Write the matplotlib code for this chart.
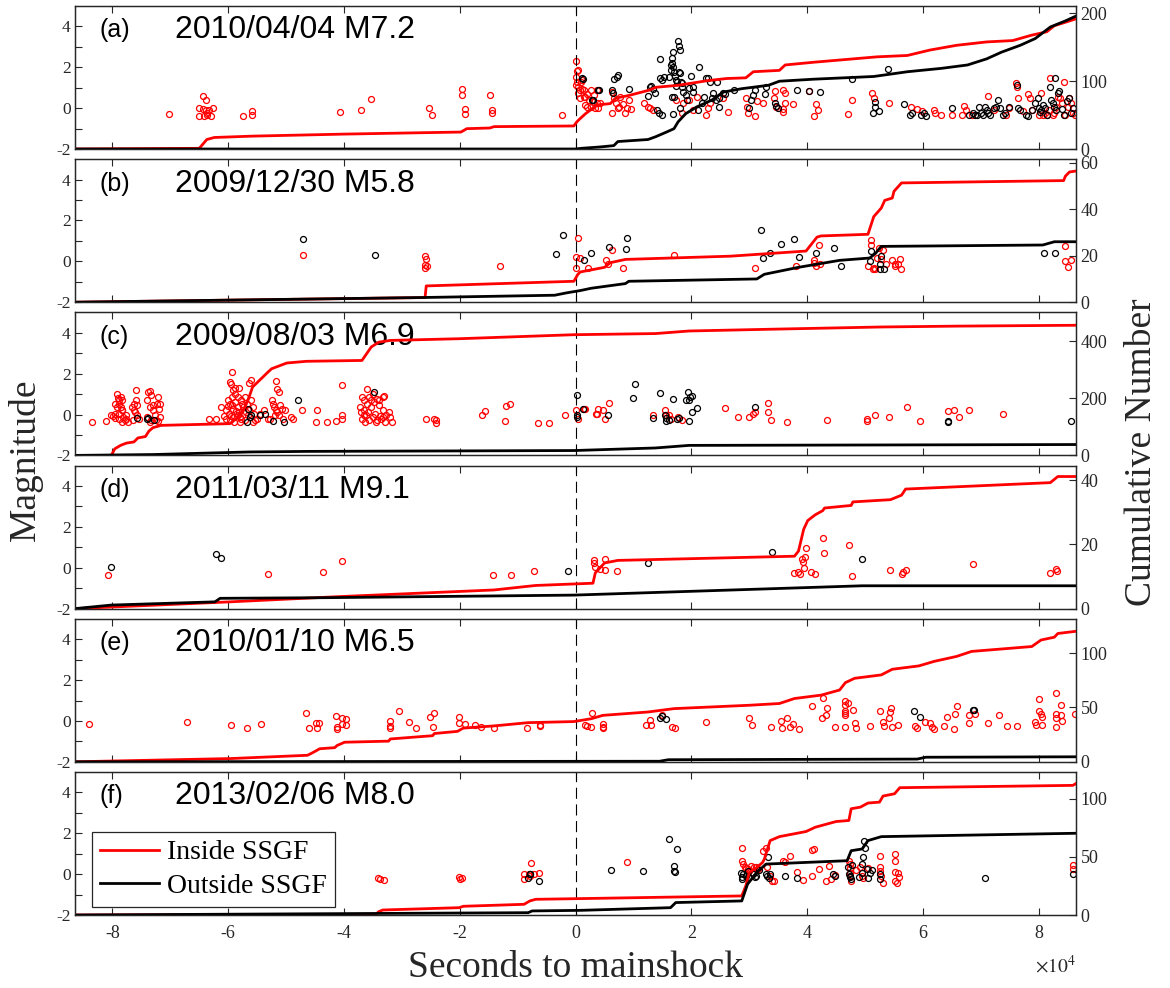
import numpy as np
import matplotlib.pyplot as plt

plt.rcParams['font.family'] = ['Liberation Serif', 'DejaVu Serif']
plt.rcParams['axes.unicode_minus'] = False
plt.rcParams['mathtext.fontset'] = 'stix'

# times in units of 1e4 s relative to the mainshock, magnitudes
A_IN = [(-7.03,-0.30),(-6.43,0.59),(-6.39,0.40),(-6.50,0.00),(-6.50,-0.37),(-6.42,-0.37),(-6.37,-0.22),(-6.39,-0.09),(-6.33,-0.09),(-6.30,-0.37),(-6.26,0.00),(-6.37,-0.34),(-6.43,-0.06),
        (-5.75,-0.39),(-5.59,-0.14),(-5.59,-0.34),(-4.07,-0.17),(-3.71,-0.08),(-3.53,0.45),(-2.54,0.02),(-2.48,-0.35),
        (-1.96,0.92),(-1.96,0.64),(-1.91,-0.04),(-1.91,-0.29),(-1.47,0.64),(-1.45,-0.09),(-1.45,-0.25),(-0.24,-0.35),
        (0.00,2.31),(0.03,1.82),(0.04,1.87),(0.00,1.54),(0.03,1.30),(0.01,1.13),(0.05,1.02),(0.07,0.89),(0.11,1.38),(0.04,0.72),(0.08,0.51),(0.15,0.89),(0.17,0.56),(0.20,0.68),(0.24,0.40),(0.16,0.15),(0.27,0.07),(0.30,0.32),(0.34,0.00),(0.37,0.23),(0.27,0.89),
        (0.09,1.26),(0.11,0.92),(0.14,0.56),(0.19,0.07),(0.32,0.64),(0.37,0.89),(0.39,0.00),(0.43,0.23),
        (0.63,0.81),(0.66,0.48),(0.63,-0.22),(0.69,0.23),(0.73,0.00),(0.77,0.56),(0.82,0.20),(0.86,-0.22),(0.89,0.00),(0.92,0.40),(0.95,-0.05),(0.75,0.04),
        (1.18,0.23),(1.25,0.07),(1.29,0.00),(1.34,-0.09),(1.73,0.40),(1.83,-0.25),(1.86,0.23),(1.96,0.40),(2.03,-0.09),(2.09,0.56),(2.25,-0.34),(2.29,0.00),(2.32,0.23),(2.55,0.48),(2.63,-0.20),
        (2.94,0.51),(2.96,0.04),(2.97,-0.25),(3.10,-0.37),(3.13,0.37),(3.24,0.23),(3.42,0.48),(3.44,0.85),(3.46,0.07),(3.59,0.89),(3.62,0.72),(3.61,0.23),(3.59,-0.05),(3.59,-0.20),(3.75,0.20),
        (4.04,0.85),(4.12,-0.38),(4.16,0.20),(4.19,-0.09),(4.71,-0.29),(4.77,0.40),(5.12,0.72),(5.15,0.51),(5.41,0.27),(5.80,0.07),(5.89,-0.05),(5.99,-0.12),(6.19,-0.09),(6.20,-0.22),(6.32,-0.34),(6.51,-0.34),(6.68,-0.34),(6.71,0.10),(6.74,-0.09),(6.84,-0.34),(7.13,0.59),(7.23,-0.09),
        (7.44,-0.34),(7.49,0.00),(7.61,1.21),(7.62,1.02),(7.64,0.51),(7.72,-0.12),(7.81,0.69),(7.85,0.48),(7.88,-0.09),(8.01,-0.34),(8.04,0.76),(8.07,-0.34),(8.10,-0.25),(8.14,-0.34),(8.17,-0.09),(8.20,1.46),(8.24,-0.34),(8.27,-0.25),(8.30,0.07),(8.33,0.56),(8.37,0.48),(8.40,0.23),(8.43,1.30),(8.46,-0.34),(8.50,0.04),(8.53,0.48),(8.56,0.23),(8.59,-0.25),(8.63,-0.34)]
A_OUT = [(0.12,1.43),(0.28,0.40),(0.38,0.89),(0.11,1.46),(0.30,0.40),(0.40,0.89),(0.63,0.89),(0.65,0.72),(0.67,1.41),(0.71,1.54),(0.73,1.62),(0.92,0.92),
         (1.25,0.61),(1.29,1.02),(1.31,1.08),(1.34,0.92),(1.38,0.72),(1.40,-0.09),(1.44,-0.25),(1.49,-0.34),(1.45,2.39),(1.45,1.46),(1.49,1.38),(1.52,1.51),(1.62,1.54),(1.64,2.11),(1.65,1.87),(1.66,2.44),(1.67,2.19),(1.68,2.76),(1.68,2.00),(1.70,1.79),(1.71,1.57),(1.73,1.38),(1.75,1.30),(1.77,3.30),(1.78,3.06),(1.80,2.85),(1.78,1.79),(1.80,1.70),(1.82,1.30),(1.83,1.21),(1.73,1.08),(1.70,0.56),(1.67,0.56),(1.69,-0.30),(1.80,0.00),(1.84,1.05),(1.86,0.81),(1.90,0.64),(1.93,0.40),(1.96,0.97),(2.03,1.05),(2.03,0.81),(2.00,1.57),(2.14,2.00),(2.12,-0.09),(2.19,0.23),(2.22,0.56),(2.25,1.46),(2.29,1.46),(2.32,1.30),(2.35,0.48),(2.38,0.72),(2.42,0.40),(2.45,1.30),(2.47,0.51),(2.48,0.04),(2.55,0.72),(2.58,0.69),(2.74,0.89),
         (2.99,0.00),(3.03,0.40),(3.07,0.64),(3.10,0.89),(3.28,0.69),(3.29,1.02),(3.44,0.23),(3.46,0.10),(3.49,0.00),(3.83,0.89),(4.03,0.84),(4.22,0.81),(4.78,1.43),(5.13,-0.25),(5.17,0.32),(5.18,0.07),(5.24,-0.14),(5.40,1.90),(5.67,0.20),(5.77,-0.34),(5.81,-0.25),(5.96,-0.34),(6.01,-0.25),(6.05,-0.38),(6.50,0.00),
         (6.80,-0.34),(6.87,-0.25),(6.90,-0.34),(6.94,-0.34),(6.97,0.07),(7.00,-0.25),(7.03,-0.34),(7.07,0.04),(7.10,-0.09),(7.13,-0.25),(7.16,-0.34),(7.23,0.00),(7.26,0.04),(7.29,0.40),(7.33,0.00),(7.39,-0.34),(7.42,-0.25),(7.49,0.04),(7.62,1.13),(7.64,0.00),(7.68,-0.09),(7.78,-0.34),(7.81,-0.38),(7.88,-0.09),(7.94,0.23),(7.98,0.48),(8.00,0.00),(8.02,-0.17),(8.04,-0.09),(8.07,0.15),(8.10,0.00),(8.14,-0.34),(8.19,1.02),(8.22,0.40),(8.24,0.23),(8.26,0.07),(8.28,1.46),(8.30,-0.09),(8.33,0.72),(8.35,0.85),(8.40,-0.05),(8.44,-0.34),(8.48,0.37),(8.53,0.48),(8.56,-0.25),(8.59,0.00)]
A_IN_CUM_T = [-8.64, -6.50, -6.45, -6.37, -6.24, -5.58, -3.99, -2.67, -1.98, -1.88, -1.48, -1.41, -0.03, 0.02, 0.08, 0.17, 0.37, 0.60, 0.69, 0.92, 1.28, 1.38, 1.77, 2.29, 2.61, 2.94, 3.07, 3.52, 3.62, 4.11, 5.21, 5.73, 6.12, 6.58, 7.10, 7.55, 7.88, 8.14, 8.27, 8.46, 8.64]
A_IN_CUM_N = [0, 1, 6, 14, 17, 19, 22, 24, 25, 30, 31, 33, 34, 40, 45, 52, 65, 67, 75, 79, 87, 91, 94, 101, 104, 105, 114, 116, 124, 128, 136, 138, 146, 153, 158, 160, 168, 173, 182, 187, 192]
A_OUT_CUM_T = [-8.64, 0.0, 0.10, 0.42, 0.66, 0.73, 1.25, 1.38, 1.57, 1.70, 1.77, 1.90, 2.09, 2.35, 2.55, 2.87, 3.33, 3.52, 4.11, 5.15, 5.73, 6.32, 6.77, 7.10, 7.36, 7.68, 7.94, 8.20, 8.46, 8.64]
A_OUT_CUM_N = [0, 0, 1, 3, 5, 11, 14, 18, 25, 30, 40, 52, 62, 72, 84, 89, 94, 100, 103, 107, 114, 119, 124, 133, 143, 153, 163, 180, 189, 196]

B_IN = [(-4.71,0.30),(-2.60,0.25),(-2.59,0.10),(-2.60,-0.16),(-2.60,-0.31),(-2.56,-0.23),(-1.30,-0.23),(0.04,1.15),(0.00,0.21),(0.08,0.16),(0.00,-0.31),(0.22,-0.33),
        (0.53,0.08),(0.56,-0.11),(0.63,0.54),(0.82,-0.33),(1.70,0.33),(3.10,-0.31),(3.80,-0.23),(4.11,0.08),(4.12,-0.08),(4.16,-0.25),(4.21,0.79),(4.22,-0.11),(5.05,-0.25),(5.10,0.79),(5.11,1.03),(5.13,-0.36),(5.16,-0.31),(5.18,-0.36),(5.21,0.18),(5.24,0.67),(5.28,0.13),(5.31,0.54),(5.37,-0.11),(5.47,0.05),(5.51,-0.11),(5.52,-0.25),(5.57,-0.11),(5.60,0.13),(5.62,-0.36),(8.45,0.75),(8.46,0.00),(8.51,-0.28),(8.55,0.05)]
B_OUT = [(-4.71,1.11),(-3.46,0.33),(-0.34,0.34),(-0.22,1.28),(0.15,0.08),(0.27,0.43),(0.58,0.70),(0.87,0.62),(0.88,1.15),(3.20,1.52),(3.23,0.18),(3.35,0.41),(3.54,0.87),(3.77,1.08),(3.86,0.21),(4.16,0.41),(4.47,0.66),(4.59,-0.23),(5.08,0.00),(5.11,0.49),(5.26,-0.11),(5.28,0.25),(5.26,-0.36),(5.33,-0.36),(8.09,0.41),(8.28,0.41)]
B_IN_CUM_T = [-8.64, -2.60, -2.58, -0.03, 0.04, 0.08, 0.50, 0.60, 0.86, 2.68, 3.98, 4.17, 4.24, 5.05, 5.15, 5.28, 5.34, 5.47, 5.50, 5.63, 8.43, 8.46, 8.53, 8.64]
B_IN_CUM_N = [0, 2, 7, 9, 12, 13, 15, 17, 18.4, 19.8, 22, 28, 28.5, 29.2, 36.8, 40.5, 43.8, 44.8, 47.7, 51.3, 52.3, 54.2, 56, 56.4]
B_OUT_CUM_T = [-8.64, -2.67, -0.36, -0.16, 0.08, 0.27, 0.86, 0.92, 3.13, 3.26, 3.85, 4.56, 5.08, 5.18, 5.28, 8.07, 8.27, 8.64]
B_OUT_CUM_N = [0, 2, 3, 4, 5, 6, 8, 9, 10, 12, 15, 18, 19, 21, 24, 24.6, 26, 26]

C_IN = [(-8.35,-0.36),(-8.11,-0.31),
        (-8.02,0.00),(-7.99,-0.07),(-7.96,0.05),(-7.92,1.03),(-7.90,0.83),(-7.89,0.70),(-7.88,0.54),(-7.86,0.37),(-7.84,0.21),(-7.83,0.70),(-7.81,-0.12),(-7.79,-0.28),(-7.77,-0.04),(-7.76,-0.20),(-7.74,-0.36),(-7.92,0.37),(-7.96,0.54),(-7.86,0.86),(-7.89,0.05),(-7.83,0.21),(-7.88,-0.20),(-7.84,-0.36),(-7.95,-0.15),
        (-7.66,0.37),(-7.63,0.54),(-7.59,0.70),(-7.61,0.13),(-7.57,-0.04),(-7.55,-0.20),(-7.64,-0.28),(-7.59,1.19),(-7.62,0.21),(-7.57,0.45),
        (-7.40,0.70),(-7.38,1.11),(-7.36,1.16),(-7.33,0.95),(-7.35,0.37),(-7.30,0.21),(-7.27,-0.04),(-7.23,0.54),(-7.20,0.29),(-7.18,-0.12),(-7.22,0.86),(-7.40,-0.12),(-7.33,-0.28),(-7.25,-0.28),(-7.18,0.54),(-7.30,0.45),(-7.36,-0.36),(-7.22,-0.30),
        (-6.34,-0.20),(-6.21,-0.20),(-6.12,0.37),
        (-5.94,2.09),(-5.97,1.60),(-5.96,1.49),(-5.91,1.19),(-5.81,1.32),(-5.88,1.03),(-5.84,0.86),(-6.01,0.70),(-5.97,0.54),(-6.04,0.21),(-5.91,0.29),(-5.84,0.37),(-5.78,0.70),(-5.71,0.86),(-5.64,1.52),(-5.61,1.68),(-6.04,-0.20),(-5.97,-0.28),(-5.91,-0.12),(-5.84,-0.04),(-5.78,-0.20),(-5.71,-0.28),(-5.64,0.21),(-5.58,0.37),(-5.55,0.05),(-5.51,-0.20),(-5.94,0.86),(-5.88,0.62),(-5.81,0.13),(-5.74,0.37),(-5.68,0.54),(-5.61,0.70),(-5.99,0.05),(-5.90,-0.36),(-5.79,-0.36),(-5.58,-0.36),(-5.53,-0.28),(-5.45,0.05),(-5.38,0.21),(-5.31,-0.20),(-6.00,0.40),(-5.93,0.45),(-5.86,0.15),(-5.76,0.50),(-5.66,0.00),(-6.07,-0.05),(-5.95,-0.05),(-5.80,-0.10),(-5.70,0.10),(-5.88,1.30),
        (-5.18,1.65),(-5.15,1.27),(-5.13,1.11),(-5.25,0.70),(-5.23,0.54),(-5.21,0.37),(-5.18,0.21),(-5.15,0.13),(-5.12,-0.04),(-5.08,0.29),(-5.05,-0.20),(-5.02,0.21),(-5.28,-0.20),(-4.88,-0.20),(-4.92,-0.12),(-5.20,0.00),(-5.10,0.45),
        (-4.73,0.21),(-4.47,0.24),(-4.49,-0.36),(-4.30,-0.36),(-4.14,-0.31),(-4.04,1.47),(-4.03,0.00),(-4.03,-0.20),
        (-3.60,1.27),(-3.69,0.86),(-3.66,0.70),(-3.56,0.86),(-3.50,1.03),(-3.43,0.78),(-3.33,0.86),(-3.31,0.90),(-3.73,0.37),(-3.66,0.21),(-3.60,0.54),(-3.53,0.37),(-3.46,0.05),(-3.40,0.45),(-3.33,0.21),(-3.27,-0.04),(-3.23,0.13),(-3.20,-0.12),(-3.17,-0.36),(-3.69,-0.20),(-3.63,-0.36),(-3.56,-0.28),(-3.50,-0.12),(-3.43,-0.28),(-3.36,-0.20),(-3.30,-0.36),(-3.33,-0.12),(-3.40,0.70),(-3.53,0.70),(-3.66,-0.04),(-3.70,0.10),(-3.58,0.10),(-3.48,0.60),(-3.38,-0.05),(-3.62,0.00),(-3.45,-0.36),
        (-2.59,-0.20),(-2.45,-0.20),(-2.41,-0.41),(-2.41,-0.28),(-1.61,-0.04),(-1.56,0.18),(-1.22,-0.31),(-1.20,0.41),(-1.13,0.54),(-0.65,-0.41),(-0.46,-0.41),(-0.19,0.00),(0.01,0.21),(0.05,-0.20),(0.17,0.29),(0.37,0.05),
        (0.14,0.29),(0.35,0.05),(0.39,0.29),(0.48,0.21),(0.50,-0.20),(0.58,0.57),(1.34,0.00),(1.54,0.24),(1.56,0.00),(1.62,-0.04),(1.64,-0.20),(1.77,-0.12),(1.83,-0.28),(2.58,0.34),(2.81,-0.12),(2.99,-0.12),(3.07,0.05),(3.10,0.13),(3.33,0.57),(3.33,0.13),(3.38,-0.25),(3.65,-0.36),(4.35,-0.25),(5.04,-0.20),(5.04,-0.31),(5.17,-0.04),(5.41,-0.12),(5.72,0.37),(5.95,-0.31),(6.43,0.16),(6.53,0.24),(6.63,-0.12),(6.79,0.24),(7.38,0.01)]
C_OUT = [(-7.58,-0.15),(-7.40,-0.20),(-7.38,-0.15),(-7.28,-0.25),(-5.68,-0.36),(-5.66,0.29),(-5.63,-0.12),(-5.61,-0.04),(-5.45,0.00),(-5.37,0.05),(-5.23,-0.33),(-5.04,-0.36),(-4.79,0.73),(-3.48,1.11),(0.02,0.94),(0.02,-0.04),(0.03,-0.12),(0.12,0.29),(0.56,0.00),(1.02,1.49),(1.00,0.83),(1.34,-0.15),(1.45,1.06),(1.54,0.00),(1.56,-0.15),(1.57,-0.31),(1.62,-0.25),(1.69,0.75),(1.75,-0.20),(1.78,-0.15),(1.90,0.73),(1.95,1.08),(1.96,0.70),(1.98,0.86),(2.01,0.91),(1.96,-0.33),(2.01,0.13),(2.09,0.32),(3.10,0.37),(6.43,-0.36),(6.43,-0.31),(8.55,-0.31)]
C_IN_CUM_T = [-8.64, -8.02, -7.96, -7.86, -7.76, -7.63, -7.56, -7.43, -7.37, -7.30, -7.16, -5.97, -5.84, -5.71, -5.64, -5.58, -5.31, -5.25, -4.99, -4.65, -3.69, -3.53, -3.40, -3.20, -2.01, -0.03, 1.38, 1.96, 3.33, 5.28, 6.58, 8.64]
C_IN_CUM_N = [0, 0, 23, 35, 43, 47, 61, 66, 85, 97, 105, 111, 132, 169, 204, 239, 292, 303, 323, 329, 332, 379, 396, 402, 408, 422, 426, 435, 441, 449, 452, 455]
C_OUT_CUM_T = [-8.64, -7.30, -5.64, -4.65, -0.03, 1.38, 1.96, 8.64]
C_OUT_CUM_N = [0, 3, 12, 14, 17, 26, 35, 38]

D_IN = [(-8.07,-0.36),(-5.31,-0.31),(-4.37,-0.20),(-4.04,0.32),(-1.43,-0.36),(-1.12,-0.36),(-0.72,-0.15),(0.32,0.37),(0.32,0.21),(0.34,0.05),(0.43,-0.04),(0.50,0.42),(0.50,-0.12),(0.71,-0.15),(3.78,-0.28),(3.85,-0.23),(3.88,-0.33),(3.91,0.42),(3.92,0.29),(3.94,0.00),(3.96,0.54),(3.98,0.98),(4.07,-0.23),(4.13,-0.31),(4.27,1.44),(4.29,0.70),(4.73,1.11),(4.77,-0.40),(5.43,-0.12),(5.63,-0.33),(5.65,-0.23),(5.70,-0.12),(6.87,0.18),(8.19,-0.25),(8.30,-0.07),(8.32,-0.17)]
D_OUT = [(-8.02,0.05),(-6.22,0.65),(-6.13,0.49),(-0.13,-0.18),(1.25,0.21),(3.39,0.78),(4.95,0.42)]
D_IN_CUM_T = [-8.64, -5.97, -4.12, -1.41, -0.69, 0.30, 0.34, 0.50, 0.73, 3.78, 3.85, 3.94, 4.01, 4.14, 4.27, 4.30, 4.76, 4.79, 5.44, 5.63, 5.70, 8.20, 8.33, 8.64]
D_IN_CUM_N = [0, 2.1, 3.7, 5.8, 7.2, 7.9, 11.1, 14.2, 15, 16.3, 17.9, 24.7, 27.4, 29.2, 30.5, 31.3, 32.1, 33.2, 33.9, 35.3, 37.2, 39.2, 41.1, 41.1]
D_OUT_CUM_T = [-8.64, -8.02, -6.23, -6.14, -4.32, -0.03, 4.95, 8.64]
D_OUT_CUM_N = [0, 1.1, 2.1, 3.2, 3.4, 4.2, 7.1, 7.1]

E_IN = [(-8.40,-0.16),(-6.72,-0.06),(-5.95,-0.19),(-5.68,-0.33),(-5.43,-0.16),(-4.65,0.38),(-4.60,-0.34),(-4.49,-0.11),(-4.47,-0.34),(-4.43,-0.11),(-4.14,0.25),(-4.12,-0.31),(-4.12,-0.40),(-4.04,0.15),(-4.04,-0.14),(-3.96,0.10),(-3.96,-0.19),(-3.20,0.02),(-3.21,-0.23),(-3.21,-0.34),(-3.05,0.51),(-2.88,-0.06),(-2.75,-0.36),(-2.52,0.18),(-2.45,0.38),(-2.47,-0.28),(-2.01,0.18),(-2.01,-0.11),(-1.91,-0.14),(-1.74,-0.19),(-1.63,-0.28),(-1.41,-0.36),(-0.84,-0.36),(-0.61,-0.19),(-0.61,-0.27),(0.17,-0.19),(0.19,-0.27),(0.27,-0.31),(0.29,0.40),
        (0.47,-0.14),(0.47,-0.28),(0.47,-0.36),(1.21,-0.19),(1.29,0.05),(1.31,-0.19),(1.49,0.27),(1.67,-0.31),(1.72,-0.36),(2.25,-0.03),(2.99,0.15),(3.05,-0.19),(3.38,-0.31),(3.55,0.02),(3.57,-0.34),(3.65,0.15),(3.70,-0.28),(3.75,-0.14),(3.86,-0.39),(4.09,0.71),(4.25,0.15),(4.28,1.14),(4.32,0.27),(4.35,0.64),(4.48,-0.31),(4.65,1.00),(4.65,0.79),(4.66,0.51),(4.66,0.40),(4.66,0.30),(4.65,-0.28),(4.71,0.87),(4.79,0.55),(4.82,-0.11),(4.84,-0.36),(5.08,-0.23),(5.26,0.51),(5.31,-0.06),(5.32,-0.23),(5.41,0.15),(5.43,0.43),(5.45,0.63),(5.46,-0.31),(5.57,-0.18),(5.86,-0.23),(5.90,-0.34),(6.04,-0.06),(6.12,-0.09),(6.15,-0.28),(6.19,-0.39),(6.36,-0.23),(6.42,0.21),(6.53,-0.39),(6.55,0.32),(6.58,0.71),(6.79,-0.11),(6.79,0.30),(6.90,0.32),(7.12,-0.09),(7.31,0.30),(7.46,-0.23),(7.63,-0.26),(7.93,-0.06),(7.96,-0.19),(8.01,1.09),(8.01,0.48),(8.04,0.32),(8.05,0.18),(8.06,-0.19),(8.29,1.38),(8.29,0.32),(8.30,0.15),(8.29,-0.31),(8.39,0.76),(8.39,0.30),(8.40,0.02),(8.63,0.35)]
E_OUT = [(1.45,0.15),(1.49,0.25),(1.56,0.10),(5.85,0.51),(5.95,0.18),(6.87,0.55),(6.88,0.52)]
E_IN_CUM_T = [-8.64, -5.95, -4.63, -4.52, -4.42, -4.16, -4.12, -3.99, -3.23, -3.20, -2.47, -2.44, -2.04, -1.94, -1.41, -0.82, -0.03, 0.27, 0.47, 1.25, 1.70, 3.0, 3.52, 3.78, 4.24, 4.56, 4.66, 4.82, 5.28, 5.47, 5.93, 6.19, 6.58, 6.84, 7.88, 8.04, 8.27, 8.33, 8.64]
E_IN_CUM_N = [0, 3, 6, 9, 12, 13, 15, 18, 19, 21, 24, 26, 28, 31, 33, 36, 37, 39.6, 42.7, 45.8, 48.9, 52, 53.6, 58.2, 61.3, 66, 72.8, 76.8, 79.9, 85.1, 88.2, 92.3, 96.9, 101.5, 106, 112, 114.6, 118, 120]
E_OUT_CUM_T = [-8.64, 1.45, 1.60, 5.90, 6.05, 8.64]
E_OUT_CUM_N = [0, 0.5, 1.9, 2.5, 4.2, 4.6]

F_IN = [(-3.41,-0.20),(-3.38,-0.25),(-3.31,-0.30),(-2.02,-0.13),(-1.99,-0.25),(-1.96,-0.20),(-0.89,-0.25),(-0.89,0.00),(-0.81,0.00),(-0.77,0.54),(-0.72,0.00),(-0.63,0.08),(-0.79,-0.08),
        (0.88,0.57),(2.87,1.28),(2.88,0.62),(2.90,0.52),(2.92,0.36),(2.94,0.28),(2.97,0.25),(3.00,0.16),(3.03,0.41),(3.07,0.08),(3.09,0.33),(3.12,0.36),(3.15,0.25),(3.23,1.11),(3.29,1.28),(3.31,0.33),(3.36,-0.08),(3.39,-0.33),(3.42,-0.36),(3.59,0.66),(3.62,0.57),(3.70,0.90),(3.83,0.11),(3.93,-0.30),(4.09,-0.08),(4.09,1.18),(4.11,1.23),(4.20,0.25),(4.32,-0.36),(4.37,0.41),(4.42,-0.25),(4.48,-0.03),(4.72,0.66),(4.74,0.52),(4.74,0.28),(4.74,0.08),(4.76,-0.33),(4.85,0.20),(4.92,0.36),(4.95,-0.08),(4.97,-0.21),(5.05,0.30),(5.25,0.87),(5.25,0.36),(5.26,0.16),(5.28,-0.08),(5.31,-0.41),(5.51,0.98),(5.51,0.62),(5.51,0.11),(5.52,-0.36),(5.56,-0.41),(5.57,0.08),(5.59,-0.13),(8.59,0.44),(8.59,0.25)]
F_OUT = [(-0.79,0.00),(-0.82,-0.20),(-0.63,-0.36),(-0.78,0.03),(0.62,0.20),(1.17,0.16),(1.62,1.72),(1.70,0.16),(1.70,0.41),(1.71,0.11),(1.75,1.23),(2.86,0.08),(2.87,-0.16),(2.88,-0.25),(2.90,0.00),(2.94,-0.08),(2.97,0.16),(3.00,-0.16),(3.07,0.00),(3.10,-0.16),(3.12,-0.08),(3.16,0.20),(3.29,0.03),(3.31,-0.08),(3.33,0.82),(3.34,-0.20),(3.36,0.03),(3.62,-0.11),(3.83,-0.20),(4.45,0.00),(4.48,-0.08),(4.71,0.36),(4.72,0.00),(4.74,-0.08),(4.74,-0.16),(4.76,-0.25),(4.77,0.44),(4.89,-0.13),(4.94,0.08),(4.95,0.52),(4.97,0.85),(4.99,1.64),(5.00,1.28),(5.03,0.25),(5.05,-0.20),(5.08,0.08),(5.12,0.20),(5.25,0.00),(5.26,-0.25),(7.08,-0.20),(8.59,0.03)]
F_IN_CUM_T = [-8.64, -3.45, -3.40, -3.33, -2.01, -1.94, -0.89, -0.79, -0.69, 0.08, 2.87, 2.94, 3.0, 3.13, 3.23, 3.26, 3.36, 3.52, 3.98, 4.14, 4.50, 4.72, 4.76, 4.92, 5.05, 5.25, 5.31, 5.51, 5.60, 8.59, 8.64]
F_IN_CUM_N = [0, 0.5, 2.9, 4.3, 6.3, 7.5, 9.2, 12.1, 13.5, 14.1, 16.4, 25, 36.6, 40.9, 45.2, 48.1, 64, 67.4, 71.8, 75.5, 80.4, 81.3, 91.4, 92.8, 96.3, 97.1, 102.3, 104.3, 109.5, 111.5, 113]
F_OUT_CUM_T = [-8.64, -0.82, -0.75, 0.08, 1.64, 1.73, 2.87, 2.97, 3.13, 3.29, 4.69, 4.76, 4.95, 5.05, 5.28, 8.64]
F_OUT_CUM_N = [0, 2, 3.5, 4, 6.3, 10.7, 12.1, 26.5, 36.6, 43.8, 46.7, 55.3, 56.8, 64, 67.4, 70.3]

LETTERS = ['(a)', '(b)', '(c)', '(d)', '(e)', '(f)']
EVENTS = ['2010/04/04 M7.2', '2009/12/30 M5.8', '2009/08/03 M6.9',
          '2011/03/11 M9.1', '2010/01/10 M6.5', '2013/02/06 M8.0']
CUM_TICKS = [[0, 100, 200], [0, 20, 40, 60], [0, 200, 400], [0, 20, 40], [0, 50, 100], [0, 50, 100]]
CUM_TOP = [211, 61.5, 500, 44.5, 131.5, 123]

panels = [
    (A_IN, A_OUT, A_IN_CUM_T, A_IN_CUM_N, A_OUT_CUM_T, A_OUT_CUM_N),
    (B_IN, B_OUT, B_IN_CUM_T, B_IN_CUM_N, B_OUT_CUM_T, B_OUT_CUM_N),
    (C_IN, C_OUT, C_IN_CUM_T, C_IN_CUM_N, C_OUT_CUM_T, C_OUT_CUM_N),
    (D_IN, D_OUT, D_IN_CUM_T, D_IN_CUM_N, D_OUT_CUM_T, D_OUT_CUM_N),
    (E_IN, E_OUT, E_IN_CUM_T, E_IN_CUM_N, E_OUT_CUM_T, E_OUT_CUM_N),
    (F_IN, F_OUT, F_IN_CUM_T, F_IN_CUM_N, F_OUT_CUM_T, F_OUT_CUM_N),
]

GRAY = '#262626'
W, H = 1170, 988
x0, x1 = 75.4, 1075.8
fig = plt.figure(figsize=(W / 100, H / 100), dpi=100)

for i, (pin, pout, it, iN, ot, oN) in enumerate(panels):
    top = 6 + 153.2 * i
    ax = fig.add_axes([x0 / W, 1 - (top + 143) / H, (x1 - x0) / W, 143 / H])
    ax2 = ax.twinx()

    # earthquakes (magnitude, left axis)
    t, m = np.array(pin).T
    ax.plot(t, m, 'o', mfc='none', mec='red', ms=4.3, mew=0.9)
    t, m = np.array(pout).T
    ax.plot(t, m, 'o', mfc='none', mec='black', ms=4.3, mew=0.9)
    ax.axvline(0, color='black', lw=0.8, dashes=(10, 5))

    # cumulative numbers (right axis)
    l_in, = ax2.plot(it, iN, color='red', lw=2.0)
    l_out, = ax2.plot(ot, oN, color='black', lw=2.0)

    ax.set_xlim(-8.64, 8.64)
    ax.set_ylim(-2, 5)
    ax2.set_ylim(0, CUM_TOP[i])
    ax.set_yticks(range(-2, 5))
    ax.set_yticklabels(['-2', '', '0', '', '2', '', '4'])
    ax2.set_yticks(CUM_TICKS[i])
    ax.set_xticks(np.arange(-8, 9, 2))
    ax.set_xticklabels([str(v) for v in range(-8, 9, 2)])

    ax.tick_params(direction='in', length=5, width=0.8, colors=GRAY, labelsize=12.5,
                   top=True, right=False, labelbottom=(i == 5))
    ax2.tick_params(direction='in', length=5, width=0.8, colors=GRAY, labelsize=13)
    for a in (ax, ax2):
        for s in a.spines.values():
            s.set_color(GRAY)
            s.set_linewidth(0.9)

    ax.text(0.024, 0.83, LETTERS[i], transform=ax.transAxes, fontsize=18,
            family='Liberation Sans', va='center', ha='left')
    ax.text(0.1, 0.83, EVENTS[i], transform=ax.transAxes, fontsize=23,
            family='Liberation Sans', va='center', ha='left')

    if i == 5:
        ax.tick_params(axis='x', labelsize=13, pad=7)
        leg = ax2.legend([l_in, l_out], ['Inside SSGF', 'Outside SSGF'],
                         loc='upper left', bbox_to_anchor=(0.0166, 0.583),
                         borderaxespad=0, fontsize=20, fancybox=False,
                         edgecolor=GRAY, framealpha=1, handlelength=2.1,
                         handletextpad=0.3, borderpad=0.3, labelspacing=0.28)
        leg.get_frame().set_linewidth(0.9)

fig.text(25 / W, 1 - 460 / H, 'Magnitude', rotation=90, fontsize=27,
         ha='center', va='center', color=GRAY)
fig.text(1142 / W, 1 - 452 / H, 'Cumulative Number', rotation=90, fontsize=27,
         ha='center', va='center', color=GRAY)
fig.text(576 / W, 1 - 968 / H, 'Seconds to mainshock', fontsize=27,
         ha='center', va='center', color=GRAY)
fig.text(1076 / W, 1 - 966 / H, r'$\times10^4$', fontsize=14,
         ha='right', va='center', color=GRAY)

fig.savefig('out.png', dpi=100)
